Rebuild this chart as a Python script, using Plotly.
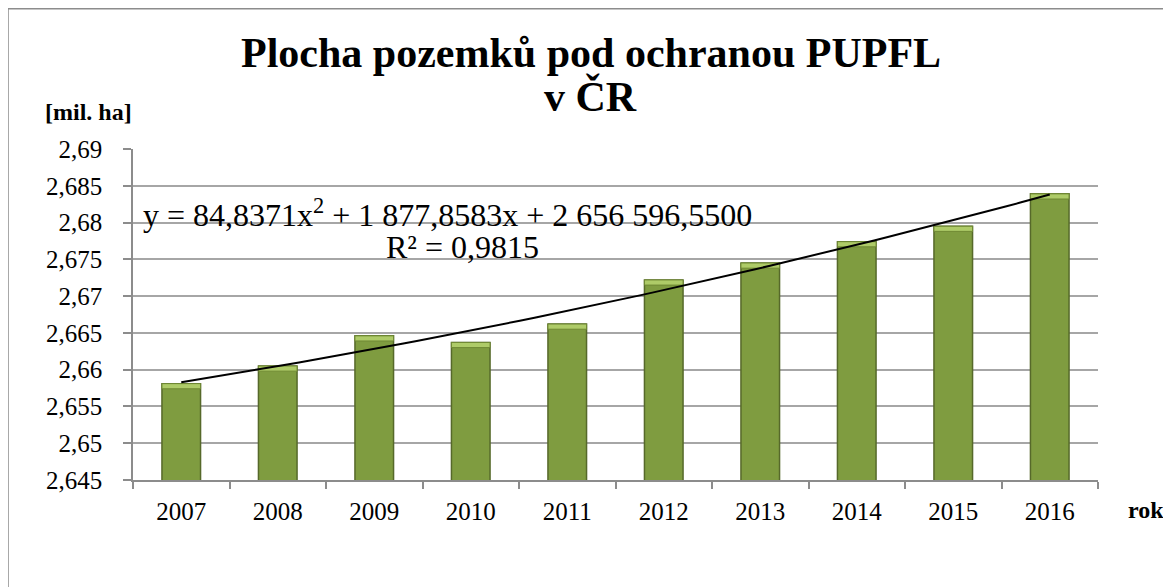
import numpy as np
import plotly.graph_objects as go

# data (mil. ha)
years = ["2007", "2008", "2009", "2010", "2011", "2012", "2013", "2014", "2015", "2016"]
area = [2.6581, 2.6605, 2.6646, 2.6637, 2.6662, 2.6722, 2.6745, 2.6774, 2.6795, 2.6839]

eq_line1 = "y = 84,8371x<sup>2</sup> + 1 877,8583x + 2 656 596,5500"
eq_line2 = "R² = 0,9815"

# polynomial trend (2nd order) fitted on the bars, like Excel does
xi = np.arange(1, len(area) + 1)
coef = np.polyfit(xi, area, 2)
xs = np.linspace(1, len(area), 60)
ys = np.polyval(coef, xs)

serif = "Liberation Serif"
bevel = 0.0007

fig = go.Figure()
fig.add_trace(go.Bar(x=years, y=area, width=0.4,
                     marker=dict(color="#7F9C40", line=dict(color="#56692A", width=1.5)),
                     showlegend=False))
# lighter top edge to mimic the bevel
fig.add_trace(go.Bar(x=years, y=[bevel] * len(area), base=[v - bevel for v in area], width=0.4,
                     marker=dict(color="#AECB68", line=dict(color="#6F8833", width=1)),
                     showlegend=False))
fig.add_trace(go.Scatter(x=xs, y=ys, xaxis="x2", mode="lines",
                         line=dict(color="black", width=2), showlegend=False))

# the page has an 8px body margin, so the margins are shifted by it
fig.update_layout(
    width=1171, height=587,
    margin=dict(l=125, r=81, t=141, b=115),
    paper_bgcolor="white", plot_bgcolor="white",
    separators=", ",
    barmode="overlay",
    font=dict(family=serif, size=25, color="black"),
    xaxis=dict(type="category", tickson="boundaries", ticks="outside", ticklen=7,
               tickcolor="#8C8C8C", tickwidth=1.5, showline=True, linecolor="#8C8C8C",
               linewidth=1.5, showgrid=False, range=[-0.5, 9.5],
               tickfont=dict(family=serif, size=25), ticklabelstandoff=8),
    xaxis2=dict(overlaying="x", range=[0.5, 10.5], visible=False),
    yaxis=dict(range=[2.645, 2.69], dtick=0.005, tick0=2.645, ticks="outside", ticklen=8,
               tickcolor="#8C8C8C", tickwidth=1.5, showline=True, linecolor="#8C8C8C",
               linewidth=1.5, showgrid=True, gridcolor="#A6A6A6", gridwidth=1.5,
               zeroline=False, tickfont=dict(family=serif, size=25), ticklabelstandoff=16),
)

# outer chart frame (runs off the right and bottom edge)
fig.add_shape(type="rect", xref="paper", yref="paper",
              x0=(8 - 133) / 965, x1=1.2, y0=-0.6, y1=(472 - 0.75) / 331,
              line=dict(color="#8C8C8C", width=1.5), layer="below")


def label(text, x, y, size):
    fig.add_annotation(text=text, xref="paper", yref="paper", x=x, y=y,
                       xanchor="center", yanchor="middle", showarrow=False,
                       font=dict(family=serif, size=size, color="black"))


label("<b>Plocha pozemků pod ochranou PUPFL</b>", 0.4746, 1.29, 42)
label("<b>v ČR</b>", 0.4746, 1.16, 42)
label("<b>[mil. ha]</b>", -0.0466, 1.112, 24)
label("<b>rok</b>", 1.0497, -0.0906, 24)
label(eq_line1, 0.326, 0.807, 32)
label(eq_line2, 0.341, 0.704, 32)

fig.write_html("out.html")
